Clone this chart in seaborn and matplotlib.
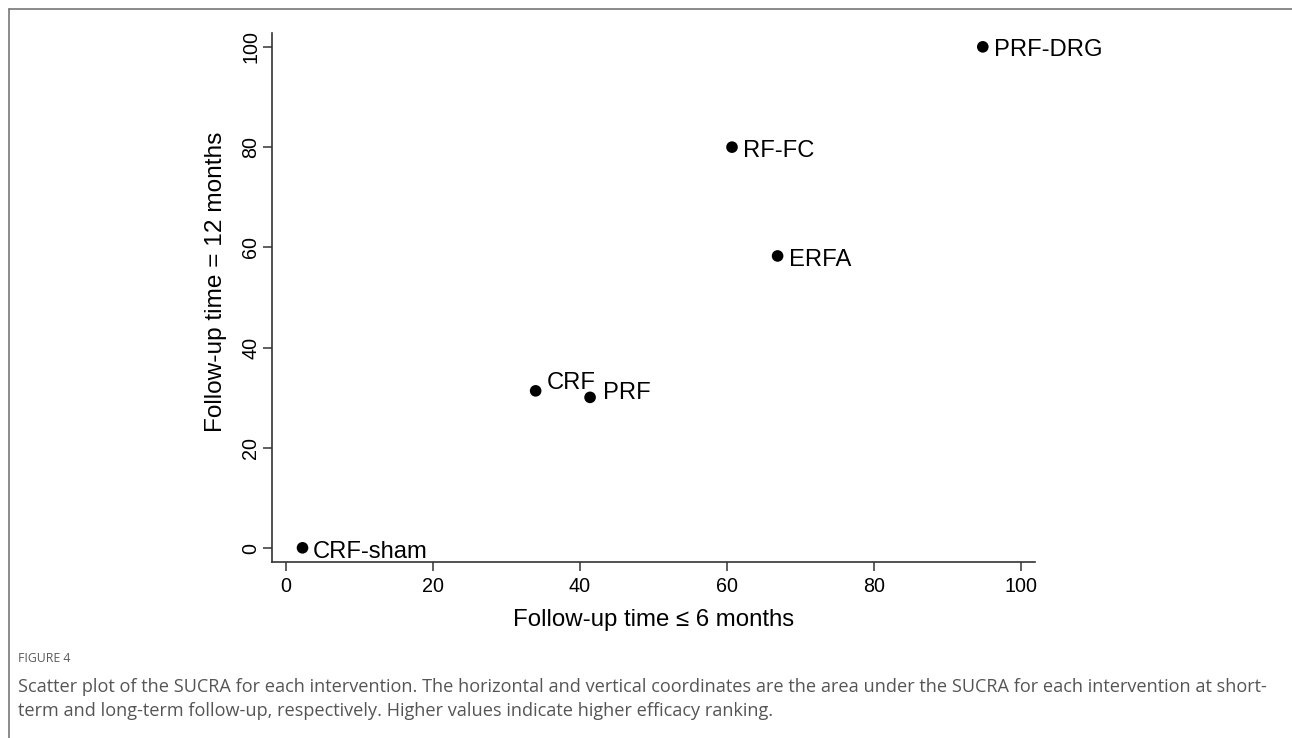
import matplotlib
matplotlib.use("Agg")
import matplotlib.pyplot as plt
import seaborn as sns
import pandas as pd
from matplotlib.lines import Line2D

# ---- data ----
interventions = ["PRF-DRG", "RF-FC", "ERFA", "CRF", "PRF", "CRF-sham"]
sucra_short = [94.8, 60.7, 66.9, 34.0, 41.4, 2.3]
sucra_long = [100.0, 80.0, 58.3, 31.4, 30.1, 0.1]
x_ticks = [0, 20, 40, 60, 80, 100]
y_ticks = [0, 20, 40, 60, 80, 100]

x_label = "Follow-up time \u2264 6 months"
y_label = "Follow-up time = 12 months"
fig_tag = "FIGURE 4"
caption_lines = [
    "Scatter plot of the SUCRA for each intervention. The horizontal and vertical coordinates are the area under the SUCRA for each intervention at short-",
    "term and long-term follow-up, respectively. Higher values indicate higher efficacy ranking.",
]

# label offsets in pixels (style, not data)
label_offsets = {
    "PRF-DRG": (11, -3),
    "RF-FC": (11, -4),
    "ERFA": (11, -4),
    "CRF": (11, 8),
    "PRF": (13, 4.5),
    "CRF-sham": (10, -4),
}

df = pd.DataFrame({"name": interventions, "short": sucra_short, "long": sucra_long})

sns.set_theme(style="white")
plt.rcParams["font.family"] = ["Liberation Sans", "DejaVu Sans"]

W, H = 1292, 738
fig = plt.figure(figsize=(W / 100, H / 100), dpi=100)
fig.patch.set_facecolor("white")

ax = fig.add_axes([272 / W, 1 - 561.7 / H, (1035 - 272) / W, (561.7 - 33.3) / H])
sns.scatterplot(data=df, x="short", y="long", ax=ax, color="black", s=70,
                edgecolor="none", linewidth=0, zorder=3)

for name, xv, yv in zip(df["name"], df["short"], df["long"]):
    dx, dy = label_offsets[name]
    ax.annotate(name, (xv, yv), xytext=(dx, dy), textcoords="offset pixels",
                ha="left", va="center", fontsize=17.1, color="black")

ax.set_xlim(-1.85, 101.9)
ax.set_ylim(-2.67, 102.7)
ax.set_xticks(x_ticks)
ax.set_yticks(y_ticks)
ax.set_xticklabels([str(t) for t in x_ticks])
ax.set_yticklabels([str(t) for t in y_ticks], rotation=90, va="center")

for side in ["top", "right"]:
    ax.spines[side].set_visible(False)
for side in ["left", "bottom"]:
    ax.spines[side].set_color("#333333")
    ax.spines[side].set_linewidth(1.2)

ax.tick_params(axis="both", which="major", direction="out", length=6.5, width=1.1,
               color="#333333", labelsize=14.2, labelcolor="black",
               bottom=True, left=True)
ax.tick_params(axis="x", pad=4.3)
ax.tick_params(axis="y", pad=1.8)
ax.set_xlabel(x_label, fontsize=17.3, color="black", labelpad=9.5)
ax.set_ylabel(y_label, fontsize=17.6, color="black", labelpad=10.5)
ax.yaxis.label.set_y(0.53)
ax.set_facecolor("white")

# outer frame (top and left)
frame_color = "#777777"
fig.add_artist(Line2D([9 / W, 1.0], [1 - 9 / H, 1 - 9 / H], transform=fig.transFigure,
                      color=frame_color, linewidth=1.2))
fig.add_artist(Line2D([9 / W, 9 / W], [1 - 9 / H, 0.0], transform=fig.transFigure,
                      color=frame_color, linewidth=1.2))

# caption
cap_family = ["Open Sans", "DejaVu Sans"]
fig.text(18 / W, 1 - 658 / H, fig_tag, fontsize=8.8, color="#5a5a5a",
         family=cap_family, va="center", ha="left")
for i, line in enumerate(caption_lines):
    fig.text(18 / W, 1 - (687 + 24 * i) / H, line, fontsize=13.05, color="#555555",
             family=cap_family, va="center", ha="left")

fig.savefig("out.png", dpi=100, facecolor="white")
